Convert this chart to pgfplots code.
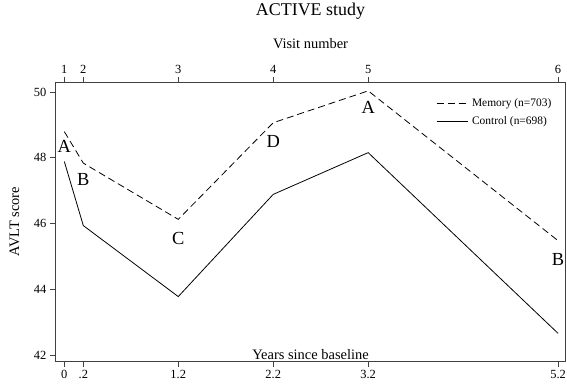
\documentclass[border=0pt]{standalone}
\usepackage{fontspec}
\setmainfont{Liberation Serif}
\usepackage{pgfplots}
\pgfplotsset{compat=1.18}
\pgfplotsset{
  common/.style={
    scale only axis, width=510.4bp, height=278.7bp,
    xmin=-0.095, xmax=5.28, ymin=41.82, ymax=50.30,
    at={(0,0)}, anchor=south west,
    /pgf/number format/assume math mode=true,
    tick label style={font=\fontsize{12.5}{14}\selectfont},
    axis line style={black!75, line width=0.8pt},
    tick style={black!75, line width=0.8pt},
    major tick length=5.5bp,
    tick align=outside,
    xtick={0,0.2,1.2,2.2,3.2,5.2},
  }
}
\begin{document}
\begin{tikzpicture}
\useasboundingbox (-55.3bp,-23bp) rectangle (511.7bp,361bp);
\begin{axis}[common,
  axis x line*=top, hide y axis,
  xticklabels={1,2,3,4,5,6},
  xlabel={Visit number},
  xlabel style={font=\fontsize{14.5}{16}\selectfont, at={(axis description cs:0.5,1.122)}, anchor=base},
  title={ACTIVE study},
  title style={font=\fontsize{18}{20}\selectfont, at={(axis description cs:0.5,1.2174)}, anchor=base},
]
\addplot[draw=none, forget plot] coordinates {(0,45)};
\end{axis}
\begin{axis}[common,
  xtick pos=bottom, ytick pos=left,
  xticklabels={0,.2,1.2,2.2,3.2,5.2},
  ytick={42,44,46,48,50},
  ylabel={AVLT score},
  ylabel style={font=\fontsize{14.5}{16}\selectfont, at={(axis description cs:-0.0799,0.5)}, anchor=center},
  legend style={at={(axis description cs:0.746,0.948)}, anchor=north west, draw=none, fill=none,
    font=\fontsize{11.5}{13}\selectfont, inner sep=0pt, row sep=4bp,
    nodes={inner xsep=4bp}},
  legend cell align=left,
  legend image code/.code={\draw[#1] (0bp,0bp) -- (31bp,0bp);},
]
\addplot[black, line width=0.8pt, dash pattern=on 7bp off 4bp] table {
x y
0 48.80
0.2 47.84
1.2 46.13
2.2 49.07
3.2 50.04
5.2 45.48
};
\addlegendentry{Memory (n=703)}
\addplot[black, line width=0.8pt] table {
x y
0 47.89
0.2 45.94
1.2 43.78
2.2 46.89
3.2 48.16
5.2 42.66
};
\addlegendentry{Control (n=698)}
\addplot[forget plot, only marks, mark=*, mark size=0pt, mark options={draw=none, fill=none},
  nodes near coords, point meta=explicit symbolic, nodes near coords align={center},
  nodes near coords style={font=\fontsize{18.5}{20}\selectfont, inner sep=0pt, black}]
  table[meta=lab] {
x y lab
0 48.35 A
0.2 47.33 B
1.2 45.56 C
2.2 48.51 D
3.2 49.54 A
5.2 44.91 B
};
\node[anchor=south, inner sep=1.5bp, font=\fontsize{14.5}{16}\selectfont] at (rel axis cs:0.5,0) {Years since baseline};
\end{axis}
\end{tikzpicture}
\end{document}
